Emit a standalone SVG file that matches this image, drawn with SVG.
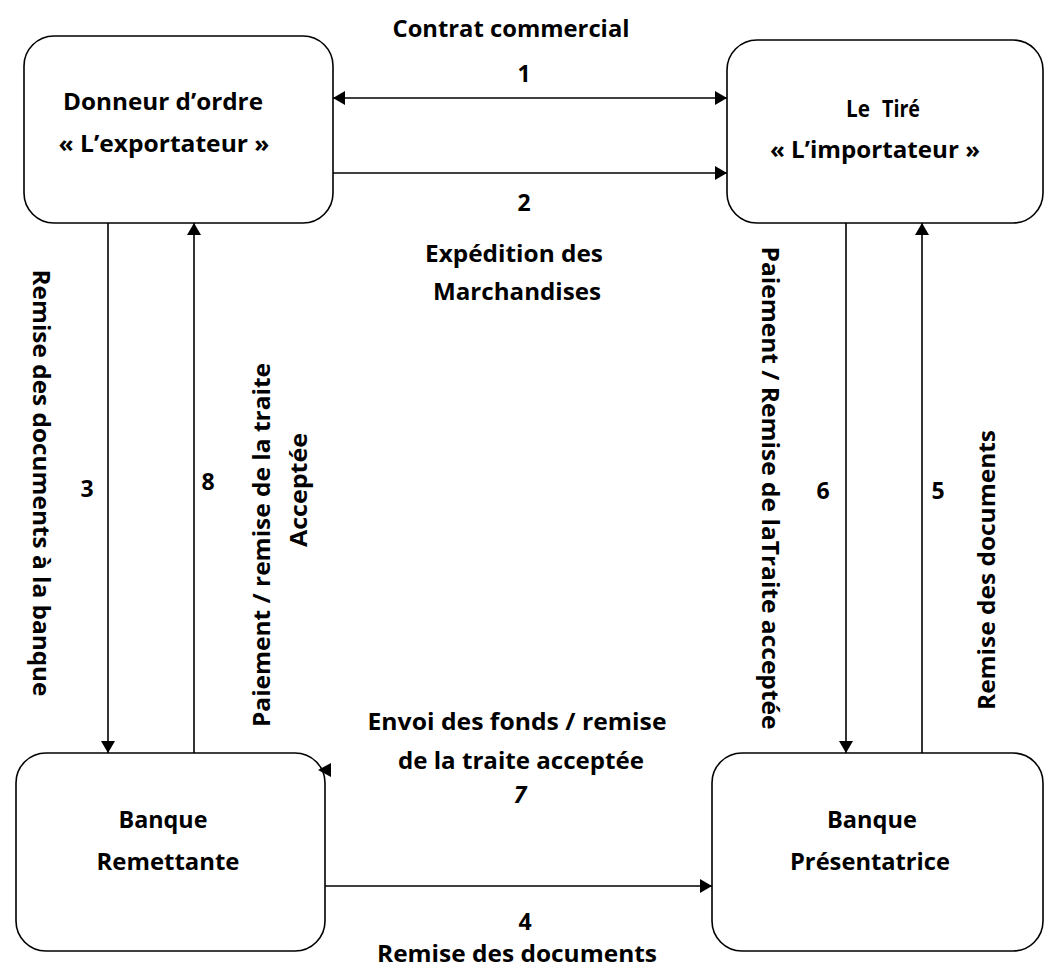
<svg xmlns="http://www.w3.org/2000/svg" width="1045" height="967" viewBox="0 0 1045 967">
  <style>
    .box { fill: #ffffff; stroke: #000000; stroke-width: 1.6; }
    .link { fill: none; stroke: #000000; stroke-width: 1.6; }
    .t { font-family: "Open Sans", "Liberation Sans", sans-serif; font-weight: bold; font-size: 23px; fill: #000000; text-anchor: middle; }
    .v { font-size: 24px; }
    .it { font-style: italic; }
  </style>
  <defs>
    <marker id="head" viewBox="0 0 12 14" refX="12" refY="7" markerWidth="12" markerHeight="14" markerUnits="userSpaceOnUse" orient="auto-start-reverse">
      <path d="M0,0 L12,7 L0,14 Z" fill="#000000"/>
    </marker>
  </defs>
  <rect width="1045" height="967" fill="#ffffff"/>

  <!-- parties -->
  <g id="exportateur">
    <rect class="box" x="24" y="36" width="309" height="187" rx="30"/>
    <text class="t" x="163" y="110" textLength="200" lengthAdjust="spacingAndGlyphs">Donneur d’ordre</text>
    <text class="t" x="164" y="152" textLength="211" lengthAdjust="spacingAndGlyphs">« L’exportateur »</text>
  </g>
  <g id="importateur">
    <rect class="box" x="727" y="40" width="316" height="183" rx="30"/>
    <text class="t" x="858" y="117" textLength="24" lengthAdjust="spacingAndGlyphs">Le</text>
    <text class="t" x="901" y="117" textLength="38" lengthAdjust="spacingAndGlyphs">Tiré</text>
    <text class="t" x="875" y="158" textLength="210" lengthAdjust="spacingAndGlyphs">« L’importateur »</text>
  </g>
  <g id="banque-remettante">
    <rect class="box" x="16" y="753" width="309" height="198" rx="30"/>
    <text class="t" x="163" y="828" textLength="89" lengthAdjust="spacingAndGlyphs">Banque</text>
    <text class="t" x="168" y="870" textLength="143" lengthAdjust="spacingAndGlyphs">Remettante</text>
  </g>
  <g id="banque-presentatrice">
    <rect class="box" x="712" y="753" width="331" height="198" rx="30"/>
    <text class="t" x="872" y="828" textLength="90" lengthAdjust="spacingAndGlyphs">Banque</text>
    <text class="t" x="870" y="870" textLength="160" lengthAdjust="spacingAndGlyphs">Présentatrice</text>
  </g>

  <!-- flows -->
  <g id="connectors">
    <line class="link" x1="333" y1="98" x2="727" y2="98" marker-start="url(#head)" marker-end="url(#head)"/>
    <line class="link" x1="333" y1="173" x2="727" y2="173" marker-end="url(#head)"/>
    <line class="link" x1="108" y1="223" x2="108" y2="753" marker-end="url(#head)"/>
    <line class="link" x1="194" y1="753" x2="194" y2="223" marker-end="url(#head)"/>
    <line class="link" x1="846" y1="223" x2="846" y2="753" marker-end="url(#head)"/>
    <line class="link" x1="922" y1="753" x2="922" y2="223" marker-end="url(#head)"/>
    <line class="link" x1="325" y1="886" x2="712" y2="886" marker-end="url(#head)"/>
    <path d="M318,770 L331,763 L331,777 Z" fill="#000000"/>
  </g>

  <!-- flow labels -->
  <g id="labels">
    <text class="t" x="511" y="37" textLength="237" lengthAdjust="spacingAndGlyphs">Contrat commercial</text>
    <text class="t" x="524" y="82">1</text>
    <text class="t" x="524" y="211">2</text>
    <text class="t" x="514" y="262" textLength="178" lengthAdjust="spacingAndGlyphs">Expédition des</text>
    <text class="t" x="517" y="300" textLength="168" lengthAdjust="spacingAndGlyphs">Marchandises</text>

    <text class="t v" transform="rotate(90 33 483)" x="33" y="483" textLength="427" lengthAdjust="spacingAndGlyphs">Remise des documents à la banque</text>
    <text class="t" x="87" y="497">3</text>
    <text class="t" x="208" y="490">8</text>
    <text class="t v" transform="rotate(-90 270 545)" x="270" y="545" textLength="364" lengthAdjust="spacingAndGlyphs">Paiement / remise de la traite</text>
    <text class="t v" transform="rotate(-90 307 490)" x="307" y="490" textLength="114" lengthAdjust="spacingAndGlyphs">Acceptée</text>

    <text class="t v" transform="rotate(90 762 488)" x="762" y="488" textLength="483" lengthAdjust="spacingAndGlyphs">Paiement / Remise de laTraite acceptée</text>
    <text class="t" x="823" y="499">6</text>
    <text class="t" x="938" y="499">5</text>
    <text class="t v" transform="rotate(-90 995 570)" x="995" y="570" textLength="280" lengthAdjust="spacingAndGlyphs">Remise des documents</text>

    <text class="t" x="517" y="730" textLength="299" lengthAdjust="spacingAndGlyphs">Envoi des fonds / remise</text>
    <text class="t" x="521" y="769" textLength="246" lengthAdjust="spacingAndGlyphs">de la traite acceptée</text>
    <text class="t it" x="520" y="803">7</text>

    <text class="t" x="525" y="930">4</text>
    <text class="t" x="517" y="962" textLength="280" lengthAdjust="spacingAndGlyphs">Remise des documents</text>
  </g>
</svg>
